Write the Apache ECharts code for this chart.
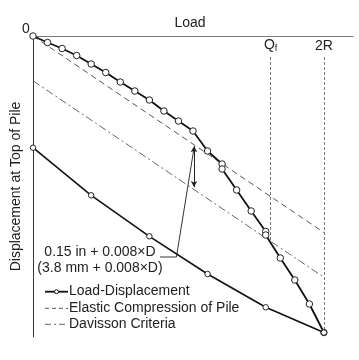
<!DOCTYPE html>
<html><head><meta charset="utf-8">
<script src="https://cdn.jsdelivr.net/npm/echarts@6/dist/echarts.min.js"></script>
<style>html,body{margin:0;padding:0;background:#fff}#c{width:359px;height:360px}</style>
</head><body><div id="c"></div>
<script>
// Load-displacement test curve (load steps, displacement in chart units, downward positive)
const loads = [0,1,2,3,4,5,6,7,8,9,10,11,12,13,13,14,15,16,16,17,18,19,20];
const disp  = [0,6.5,12.5,19.5,28,36.5,46,55,64,75,85,95,115,128,133,154,175,195.5,199,222,244,268,296.5];
// Unloading (rebound) curve
const unloadLoads = [0,4,8,12,16,20];
const unloadDisp  = [111.7,159.3,200.3,238,271.3,296.5];
// Elastic compression line and Davisson criteria line (end points)
const elasticLoads = [0,20];
const elasticDisp  = [0,196.5];
const davissonLoads = [0,20];
const davissonDisp  = [44.8,241.3];
// Reference loads
const refNames = ['Q', '2R'];
const refLoads = [16.34, 20];
const refTop = [21, 21];
const refBottom = [205, 296.5];
// Annotation: offset arrow load and leader path
const arrowLoad = 11.07;
const leaderLoads = [11.07, 9.86, 8.73];
const leaderDisp  = [112, 221, 221];
const labelLines = ['0.15 in + 0.008×D', '(3.8 mm + 0.008×D)'];
const legendNames = ['Load-Displacement', 'Elastic Compression of Pile', 'Davisson Criteria'];

const zip = (a,b) => a.map((v,i)=>[v,b[i]]);
const lerp = (xs, ys, x) => ys[0] + (ys[1]-ys[0])*(x-xs[0])/(xs[1]-xs[0]);

const FONT = 'Liberation Sans, Arial, sans-serif';
const chart = echarts.init(document.getElementById('c'), null, {renderer:'canvas'});

const arrowTop = lerp(elasticLoads, elasticDisp, arrowLoad) + 1.5;
const arrowBot = lerp(davissonLoads, davissonDisp, arrowLoad) - 2.5;

const option = {
  animation: false,
  grid: {left: 33, top: 36, width: 320, height: 301, containLabel: false},
  xAxis: {
    type: 'value', position: 'top', min: 0, max: 22,
    axisLine: {show: true, lineStyle: {color: '#7a7a7a', width: 1}},
    axisTick: {show: false}, axisLabel: {show: false}, splitLine: {show: false},
    name: 'Load', nameLocation: 'middle', nameGap: 6,
    nameTextStyle: {fontSize: 14, color: '#222', fontFamily: FONT, padding: [0, 6, 0, 0]}
  },
  yAxis: {
    type: 'value', inverse: true, min: 0, max: 301,
    axisLine: {show: true, lineStyle: {color: '#333', width: 1}},
    axisTick: {show: false}, axisLabel: {show: false}, splitLine: {show: false},
    name: 'Displacement at Top of Pile', nameLocation: 'middle', nameGap: 10, nameRotate: 90,
    nameTextStyle: {fontSize: 14, color: '#222', fontFamily: FONT}
  },
  series: [
    {
      name: legendNames[0], type: 'line', data: zip(loads, disp),
      symbol: 'circle', symbolSize: 6.5, showAllSymbol: true,
      lineStyle: {color: '#111', width: 1.8},
      itemStyle: {color: '#fff', borderColor: '#222', borderWidth: 1}, z: 5
    },
    {
      name: 'unload', type: 'line', data: zip(unloadLoads, unloadDisp),
      symbol: 'circle', symbolSize: 5.5,
      lineStyle: {color: '#111', width: 1.6},
      itemStyle: {color: '#fff', borderColor: '#222', borderWidth: 1}, z: 5
    },
    {
      name: legendNames[1], type: 'line', data: zip(elasticLoads, elasticDisp),
      symbol: 'none', lineStyle: {color: '#555', width: 1, type: [6, 4]},
      markLine: {
        silent: true, symbol: 'none',
        lineStyle: {color: '#777', width: 1, type: [3, 2]},
        label: {
          show: true, position: 'start', distance: 4, fontFamily: FONT, color: '#222',
          formatter: p => p.name === 'Q' ? '{a|Q}{b|f}' : '{a|2R}',
          rich: {a: {fontSize: 14, fontFamily: FONT, color: '#222'}, b: {fontSize: 9, fontFamily: FONT, color: '#222', verticalAlign: 'bottom', padding: [6,0,0,0]}}
        },
        data: refNames.map((n,i)=>[{name: n, coord: [refLoads[i], refTop[i]]}, {coord: [refLoads[i], refBottom[i]]}])
      }
    },
    {
      name: legendNames[2], type: 'line', data: zip(davissonLoads, davissonDisp),
      symbol: 'none', lineStyle: {color: '#666', width: 1, type: [8, 3, 2, 3]},
      markLine: {
        silent: true, symbol: ['arrow', 'arrow'], symbolSize: [5, 6],
        lineStyle: {color: '#222', width: 1, type: 'solid'},
        label: {show: false},
        data: [[{coord: [arrowLoad, arrowTop]}, {coord: [arrowLoad, arrowBot]}]]
      }
    },
    {
      name: 'leader', type: 'line', data: zip(leaderLoads, leaderDisp),
      symbol: 'none', lineStyle: {color: '#333', width: 1}, silent: true
    }
  ],
  graphic: [
    {type: 'text', left: 22, top: 22, style: {text: '0', font: '14px ' + FONT, fill: '#222'}},
    {type: 'text', x: 100, y: 252, style: {text: labelLines[0], font: '14px ' + FONT, fill: '#222', textAlign: 'center', textVerticalAlign: 'middle'}},
    {type: 'text', x: 100, y: 268.5, style: {text: labelLines[1], font: '14px ' + FONT, fill: '#222', textAlign: 'center', textVerticalAlign: 'middle'}},
    // legend
    {type: 'line', shape: {x1: 45, y1: 291.7, x2: 68, y2: 291.7}, style: {stroke: '#111', lineWidth: 1.8}},
    {type: 'circle', shape: {cx: 56.5, cy: 291.7, r: 2}, style: {stroke: '#111', fill: '#fff', lineWidth: 1}},
    {type: 'text', x: 69, y: 291.5, style: {text: legendNames[0], font: '14px ' + FONT, fill: '#222', textVerticalAlign: 'middle'}},
    {type: 'line', shape: {x1: 45, y1: 308.3, x2: 68, y2: 308.3}, style: {stroke: '#555', lineWidth: 1, lineDash: [4, 3]}},
    {type: 'text', x: 69, y: 308, style: {text: legendNames[1], font: '14px ' + FONT, fill: '#222', textVerticalAlign: 'middle'}},
    {type: 'line', shape: {x1: 45, y1: 324.3, x2: 68, y2: 324.3}, style: {stroke: '#666', lineWidth: 1, lineDash: [6, 3, 2, 3]}},
    {type: 'text', x: 69, y: 324, style: {text: legendNames[2], font: '14px ' + FONT, fill: '#222', textVerticalAlign: 'middle'}}
  ]
};
chart.setOption(option);
</script></body></html>
